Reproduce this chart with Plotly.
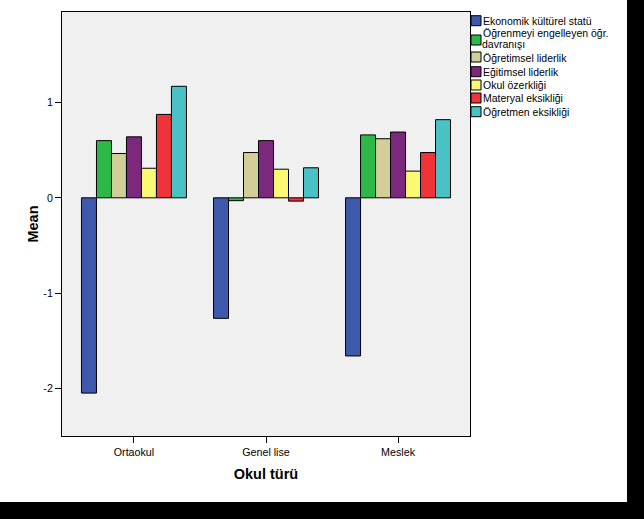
import plotly.graph_objects as go

# ---------------- data ----------------
categories = ["Ortaokul", "Genel lise", "Meslek"]
series_names = [
    "Ekonomik kültürel statü",
    "Öğrenmeyi engelleyen öğr. davranışı",
    "Öğretimsel liderlik",
    "Eğitimsel liderlik",
    "Okul özerkliği",
    "Materyal eksikliği",
    "Öğretmen eksikliği",
]
ekonomik_kulturel_statu = [-2.05, -1.265, -1.66]
ogrenmeyi_engelleyen = [0.60, -0.03, 0.66]
ogretimsel_liderlik = [0.465, 0.475, 0.62]
egitimsel_liderlik = [0.64, 0.60, 0.69]
okul_ozerkligi = [0.31, 0.30, 0.28]
materyal_eksikligi = [0.875, -0.035, 0.475]
ogretmen_eksikligi = [1.17, 0.315, 0.82]
y_tick_values = [-2, -1, 0, 1]
y_tick_labels = ["-2", "-1", "0", "1"]
x_title = "Okul türü"
y_title = "Mean"
legend_lines = [
    ["Ekonomik kültürel statü"],
    ["Öğrenmeyi engelleyen öğr.", "davranışı"],
    ["Öğretimsel liderlik"],
    ["Eğitimsel liderlik"],
    ["Okul özerkliği"],
    ["Materyal eksikliği"],
    ["Öğretmen eksikliği"],
]

series_values = [
    ekonomik_kulturel_statu, ogrenmeyi_engelleyen, ogretimsel_liderlik,
    egitimsel_liderlik, okul_ozerkligi, materyal_eksikligi, ogretmen_eksikligi,
]

# ---------------- style ----------------
colors = ["#3E58AC", "#2EB848", "#D3CE97", "#7C287D", "#FBF873", "#EF3338", "#48C2C5"]
FONT = "Liberation Sans, Arial, sans-serif"
W, H = 644, 519
# plot area in pixels
L, R, T, B = 62, 470, 12, 436


def fx(px):
    return (px - L) / (R - L)


def fy(py):
    return (B - py) / (B - T)


fig = go.Figure()
for name, vals, col in zip(series_names, series_values, colors):
    fig.add_trace(go.Bar(
        x=categories, y=vals, name=name,
        marker=dict(color=col, line=dict(color="#000000", width=1)),
        showlegend=False,
    ))

shapes = []
annotations = []

# manual legend (compact spacing as in reference)
swatch_centers = [20.7, 40, 57, 71.7, 85, 98, 111.7]
text_centers = [[21], [33, 43.5], [58.5], [72], [85.5], [98.5], [112]]
for col, sc, lines, tcs in zip(colors, swatch_centers, legend_lines, text_centers):
    shapes.append(dict(
        type="rect", xref="paper", yref="paper",
        x0=fx(471), x1=fx(481), y0=fy(sc + 5), y1=fy(sc - 5),
        fillcolor=col, line=dict(color="#000000", width=1), layer="above",
    ))
    for txt, tc in zip(lines, tcs):
        annotations.append(dict(
            text=txt, xref="paper", yref="paper", x=fx(480.5), y=fy(tc),
            xanchor="left", yanchor="middle", showarrow=False,
            font=dict(family=FONT, size=10.5, color="#000000"),
        ))

# black bands along the right and bottom edges of the picture
shapes.append(dict(type="rect", xref="paper", yref="paper",
                   x0=fx(-5), x1=fx(W + 5), y0=fy(H + 5), y1=fy(502),
                   fillcolor="#000000", line=dict(width=0), layer="above"))
shapes.append(dict(type="rect", xref="paper", yref="paper",
                   x0=fx(627), x1=fx(W + 5), y0=fy(H + 5), y1=fy(-5),
                   fillcolor="#000000", line=dict(width=0), layer="above"))

fig.update_layout(
    width=W, height=H,
    margin=dict(l=L, r=W - R, t=T, b=H - B, pad=0),
    paper_bgcolor="#FFFFFF",
    plot_bgcolor="#F0F0F0",
    barmode="group",
    bargap=0.205,
    bargroupgap=0,
    font=dict(family=FONT, size=10.7, color="#000000"),
    shapes=shapes,
    annotations=annotations,
    xaxis=dict(
        range=[-0.545, 2.545],
        showline=True, linecolor="#000000", linewidth=1, mirror=True,
        ticks="outside", ticklen=6, tickcolor="#000000",
        showgrid=False, zeroline=False,
        tickfont=dict(family=FONT, size=10.7, color="#000000"),
        title=dict(text=x_title, font=dict(family=FONT, size=14.5, color="#000000"),
                   standoff=12),
    ),
    yaxis=dict(
        range=[-2.5, 1.95],
        tickvals=y_tick_values, ticktext=y_tick_labels,
        showline=True, linecolor="#000000", linewidth=1, mirror=True,
        ticks="outside", ticklen=6, tickcolor="#000000",
        showgrid=False, zeroline=False,
        tickfont=dict(family=FONT, size=10.7, color="#000000"),
        title=dict(text=y_title, font=dict(family=FONT, size=14.5, color="#000000"),
                   standoff=1),
    ),
)
fig.update_xaxes(title_font_weight="bold")
fig.update_yaxes(title_font_weight="bold")

fig.write_html(
    "out.html",
    config={"displayModeBar": False},
    post_script="document.body.style.margin='0';document.body.style.overflow='hidden';",
)
